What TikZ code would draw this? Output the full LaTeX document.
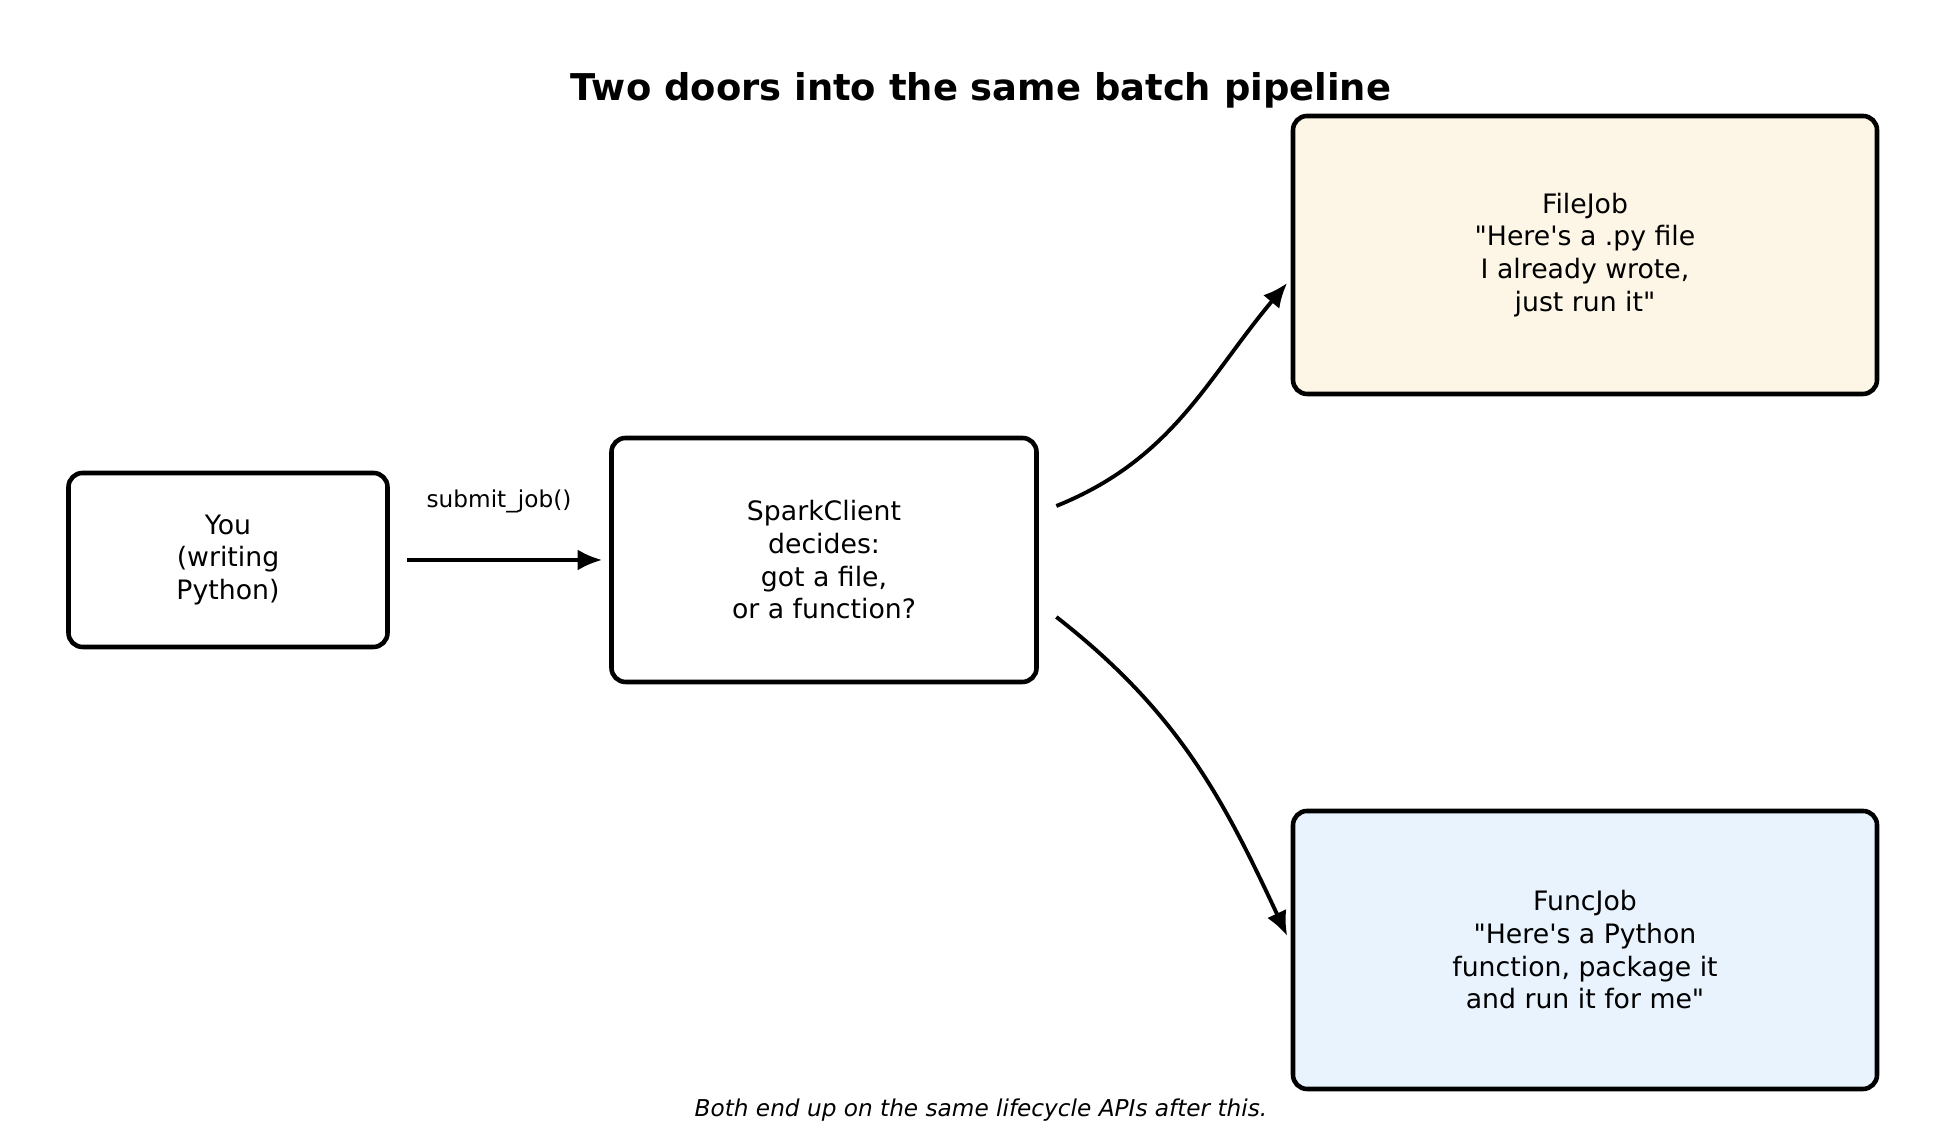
\documentclass[tikz,border=0pt]{standalone}
\usepackage{fontspec}
\setmainfont{DejaVu Sans}[Ligatures=TeXOff]
\usetikzlibrary{arrows.meta}
\usetikzlibrary{positioning}
\begin{document}
\begin{tikzpicture}[>={Latex[length=7pt,width=6pt]},line width=1.3pt,
    box node/.style={rectangle,draw,rounded corners=4pt,align=center,font=\fontsize{7.6}{9.3}\selectfont},
    flow/.style={->,line width=1.1pt}]
    \useasboundingbox (0,0) rectangle (19.4,11.3);
    \node[font=\fontsize{10.5}{12}\selectfont\bfseries] (title) at (9.81,10.40) {Two doors into the same batch pipeline};
    \node[box node,minimum width=3.19cm,minimum height=1.74cm] (you) at (2.28,5.70) {You\\(writing\\Python)};
    \node[box node,minimum width=4.25cm,minimum height=2.44cm] (spark) at (8.24,5.70) {SparkClient\\decides:\\got a file,\\or a function?};
    \node[box node,fill={rgb,255:red,253;green,246;blue,230},minimum width=5.84cm,minimum height=2.78cm] (file) at (15.85,8.75) {FileJob\\"Here's a .py file\\I already wrote,\\just run it"};
    \node[box node,fill={rgb,255:red,232;green,243;blue,254},minimum width=5.84cm,minimum height=2.78cm] (func) at (15.85,1.80) {FuncJob\\"Here's a Python\\function, package it\\and run it for me"};
    \node[font=\fontsize{6.6}{8}\selectfont] (submit) at (4.99,6.29) {submit\_job()};
    \node[font=\fontsize{6.6}{8}\selectfont\itshape] (note) at (9.81,0.20) {Both end up on the same lifecycle APIs after this.};
    % connectors
    \draw[flow] ([xshift=5pt]you.east) -- ([xshift=-2pt]spark.west);
    \draw[flow] ([xshift=5pt,yshift=0.54cm]spark.east) to[out=22,in=230] ([xshift=-1pt,yshift=-0.28cm]file.west);
    \draw[flow] ([xshift=5pt,yshift=-0.57cm]spark.east) to[out=-38,in=115] ([xshift=-1pt,yshift=0.14cm]func.west);
\end{tikzpicture}
\end{document}
